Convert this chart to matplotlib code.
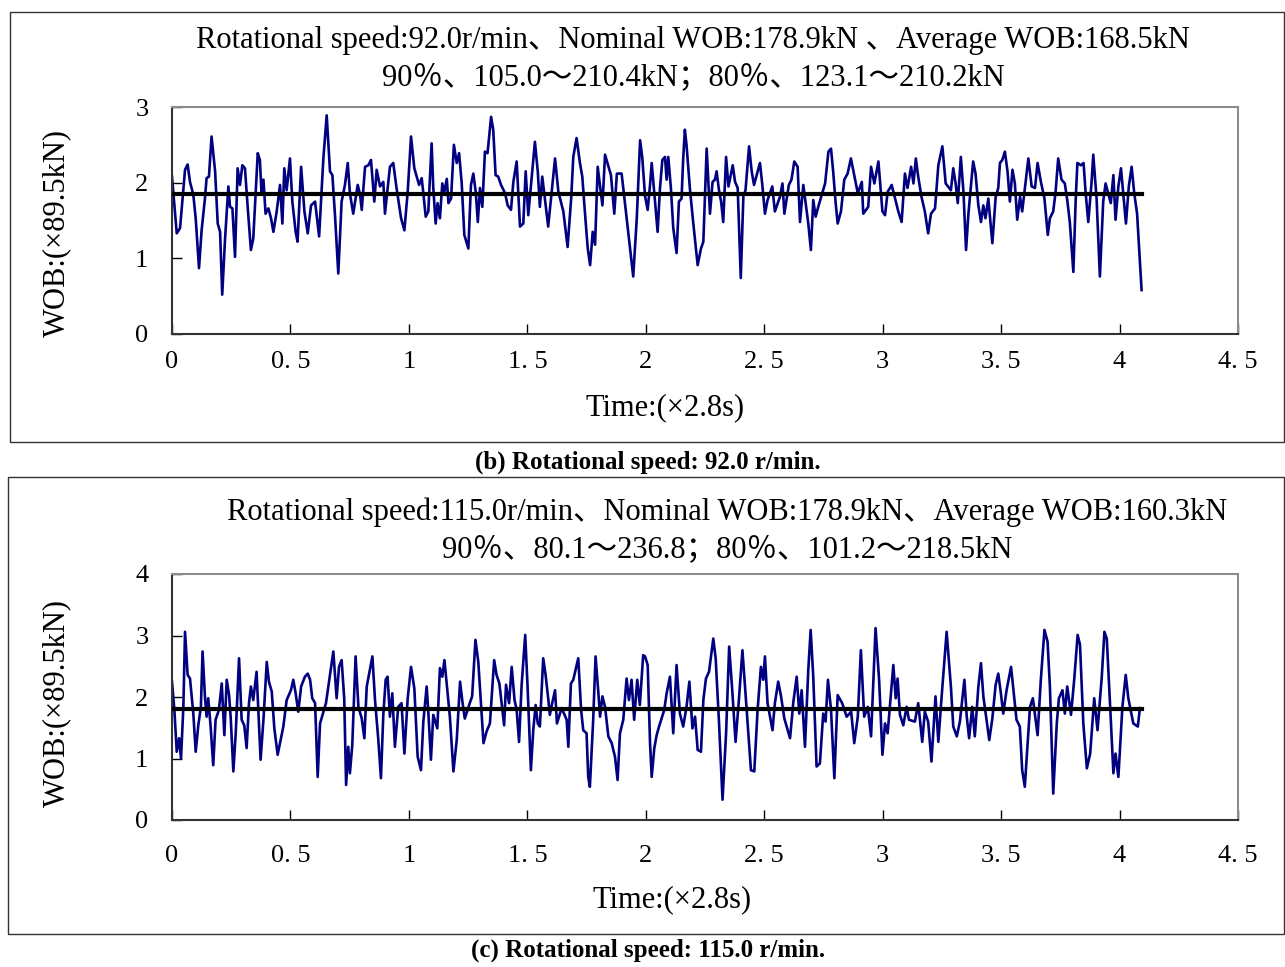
import matplotlib
matplotlib.use("Agg")
import matplotlib.pyplot as plt
from matplotlib.patches import Rectangle

plt.rcParams['font.family'] = ['Liberation Serif', 'Noto Sans CJK SC']

W, H = 1285, 967

# panel (b): 92.0 r/min, WOB in units of 89.5 kN, time in units of 2.8 s
t_b = [0.000, 0.020, 0.034, 0.055, 0.066, 0.076, 0.090, 0.100, 0.114, 0.125, 0.139, 0.146, 0.156, 0.167,
       0.182, 0.193, 0.203, 0.212, 0.224, 0.238, 0.245, 0.255, 0.266, 0.277, 0.287, 0.297, 0.308, 0.319,
       0.333, 0.343, 0.362, 0.371, 0.378, 0.386, 0.395, 0.407, 0.418, 0.428, 0.442, 0.456, 0.466, 0.474,
       0.484, 0.498, 0.508, 0.522, 0.530, 0.545, 0.559, 0.573, 0.587, 0.604, 0.621, 0.639, 0.653, 0.667,
       0.677, 0.688, 0.702, 0.716, 0.730, 0.742, 0.751, 0.765, 0.784, 0.794, 0.801, 0.815, 0.829, 0.840,
       0.854, 0.864, 0.878, 0.892, 0.899, 0.920, 0.934, 0.946, 0.967, 0.981, 0.995, 1.009,
       1.023, 1.043, 1.054, 1.061, 1.071, 1.082, 1.096, 1.103, 1.113, 1.121, 1.131, 1.141, 1.150, 1.160,
       1.167, 1.178, 1.190, 1.202, 1.212, 1.223, 1.234, 1.251, 1.262, 1.272, 1.282, 1.291, 1.300, 1.310,
       1.321, 1.332, 1.347, 1.356, 1.366, 1.377, 1.389, 1.406, 1.417, 1.431, 1.441, 1.455, 1.469, 1.483,
       1.493, 1.504, 1.532, 1.544, 1.553, 1.563, 1.588, 1.602, 1.617, 1.631, 1.652, 1.670, 1.685, 1.694,
       1.708, 1.722, 1.732, 1.744, 1.755, 1.765, 1.776, 1.786, 1.797, 1.817, 1.828, 1.853, 1.867, 1.878,
       1.898, 1.923, 1.947, 1.962, 1.976, 1.985,
       1.997, 2.008, 2.018, 2.025, 2.050, 2.060, 2.070, 2.081, 2.088, 2.095, 2.106, 2.116, 2.130, 2.140,
       2.151, 2.158, 2.165, 2.172, 2.186, 2.200, 2.219, 2.233, 2.243, 2.257, 2.271, 2.282, 2.292, 2.299,
       2.309, 2.318, 2.327, 2.339, 2.349, 2.367, 2.377, 2.388, 2.401, 2.412, 2.421, 2.436, 2.447, 2.457,
       2.482, 2.492, 2.503, 2.514, 2.534, 2.545, 2.567, 2.577, 2.585, 2.604, 2.615, 2.627, 2.641, 2.651,
       2.665, 2.686, 2.697, 2.707, 2.717, 2.728, 2.757, 2.771, 2.782, 2.791, 2.801, 2.810, 2.824, 2.838,
       2.852, 2.866, 2.881, 2.895, 2.912, 2.918, 2.939, 2.951, 2.965, 2.982, 2.999,
       3.010, 3.021, 3.031, 3.038, 3.066, 3.080, 3.094, 3.105, 3.120, 3.130, 3.140, 3.150, 3.164, 3.178,
       3.192, 3.204, 3.221, 3.235, 3.252, 3.266, 3.288, 3.298, 3.308, 3.317, 3.330, 3.341, 3.352, 3.362,
       3.373, 3.382, 3.392, 3.404, 3.415, 3.425, 3.434, 3.446, 3.463, 3.477, 3.488, 3.495, 3.505, 3.516,
       3.527, 3.537, 3.548, 3.558, 3.568, 3.580, 3.589, 3.615, 3.629, 3.643, 3.654, 3.668, 3.683, 3.697,
       3.706, 3.720, 3.730, 3.741, 3.755, 3.769, 3.780, 3.790, 3.805, 3.815, 3.822, 3.837, 3.848, 3.857,
       3.868, 3.882, 3.889, 3.903, 3.917, 3.931, 3.941, 3.963, 3.974, 3.983, 3.995, 4.006, 4.027, 4.039,
       4.051, 4.062, 4.074, 4.093]
wob_b = [2.08, 1.33, 1.40, 2.17, 2.24, 2.01, 1.84, 1.53, 0.87, 1.37, 1.79, 2.06, 2.08, 2.61,
         2.15, 1.46, 1.35, 0.52, 1.26, 1.95, 1.68, 1.66, 1.02, 2.19, 1.97, 2.23, 2.19, 1.70,
         1.11, 1.26, 2.39, 2.30, 1.86, 2.04, 1.59, 1.66, 1.53, 1.35, 1.62, 1.97, 1.46, 2.19,
         1.90, 2.32, 1.75, 1.35, 1.22, 2.21, 1.62, 1.33, 1.70, 1.75, 1.29, 2.32, 2.89, 2.15,
         2.10, 1.57, 0.80, 1.75, 1.97, 2.26, 1.86, 1.59, 1.97, 1.84, 1.64, 2.21, 2.23, 2.30,
         1.75, 2.17, 1.95, 2.01, 1.59, 2.21, 2.26, 1.97, 1.53, 1.37, 1.88, 2.61,
         2.19, 1.97, 2.06, 1.86, 1.55, 1.62, 2.52, 1.93, 1.46, 1.73, 1.53, 1.99, 1.88, 2.05,
         1.73, 1.79, 2.50, 2.26, 2.39, 1.99, 1.31, 1.13, 1.97, 2.12, 1.88, 1.48, 1.93, 1.68,
         2.41, 2.39, 2.87, 2.70, 2.10, 2.08, 1.97, 1.86, 1.70, 1.64, 2.01, 2.28, 1.42, 1.46,
         2.15, 1.57, 2.54, 2.15, 1.68, 2.08, 1.42, 1.86, 2.32, 1.88, 1.62, 1.15, 1.79, 2.34,
         2.59, 2.26, 2.08, 1.57, 1.13, 0.91, 1.35, 1.18, 2.21, 1.70, 2.37, 2.10, 1.59, 2.12,
         2.12, 1.42, 0.76, 1.53, 2.56, 2.34,
         1.82, 1.64, 1.97, 2.26, 1.35, 1.93, 2.30, 2.34, 2.04, 2.34, 1.93, 1.40, 1.07, 1.75,
         1.79, 2.32, 2.70, 2.50, 1.93, 1.48, 0.91, 1.13, 1.22, 2.45, 1.59, 2.01, 2.04, 2.15,
         1.90, 1.75, 1.48, 2.34, 1.95, 2.23, 2.01, 1.93, 0.74, 1.82, 1.90, 2.48, 2.15, 1.97,
         2.26, 1.97, 1.59, 1.77, 1.95, 1.62, 1.82, 1.99, 1.59, 1.97, 2.04, 2.28, 2.21, 1.48,
         1.97, 1.46, 1.11, 1.77, 1.55, 1.68, 1.99, 2.41, 2.45, 2.15, 1.75, 1.46, 1.62, 2.04,
         2.12, 2.32, 2.08, 1.86, 2.01, 1.59, 1.68, 2.21, 1.99, 2.28, 1.62,
         1.57, 1.88, 1.93, 1.97, 1.62, 1.48, 2.12, 1.93, 2.21, 1.99, 2.32, 2.08, 1.81, 1.62,
         1.33, 1.59, 1.66, 2.23, 2.48, 1.99, 1.90, 2.19, 1.99, 1.73, 2.34, 1.88, 1.11, 1.59,
         1.97, 2.28, 2.12, 1.70, 1.48, 1.70, 1.53, 1.79, 1.20, 1.81, 1.93, 2.26, 2.30, 2.41,
         2.15, 1.75, 2.17, 1.99, 1.51, 1.81, 1.62, 2.32, 1.95, 1.93, 2.26, 2.01, 1.79, 1.31,
         1.53, 1.62, 1.88, 2.32, 2.04, 1.99, 1.75, 1.48, 0.82, 1.79, 2.26, 2.23, 2.26, 1.86,
         1.48, 2.01, 2.37, 1.79, 0.76, 1.75, 1.99, 1.73, 2.10, 1.51, 1.95, 2.19, 1.46, 1.95,
         2.21, 1.86, 1.59, 0.58]

# panel (c): 115.0 r/min
t_c = [0.000, 0.010, 0.020, 0.030, 0.038, 0.048, 0.055, 0.066, 0.076, 0.090, 0.100, 0.111, 0.122, 0.129,
       0.139, 0.146, 0.153, 0.163, 0.174, 0.184, 0.198, 0.210, 0.221, 0.231, 0.241, 0.248, 0.259, 0.269,
       0.283, 0.294, 0.305, 0.315, 0.325, 0.333, 0.343, 0.357, 0.374, 0.386, 0.400, 0.409, 0.421, 0.432,
       0.446, 0.456, 0.470, 0.484, 0.502, 0.512, 0.522, 0.533, 0.545, 0.561, 0.573, 0.583, 0.592, 0.604,
       0.615, 0.625, 0.650, 0.664, 0.681, 0.695, 0.705, 0.716, 0.727, 0.735, 0.744, 0.751, 0.761, 0.775,
       0.787, 0.801, 0.812, 0.822, 0.846, 0.857, 0.871, 0.882, 0.892, 0.902, 0.910, 0.920, 0.930, 0.941,
       0.955, 0.969, 0.981, 0.995, 1.009,
       1.023, 1.037, 1.051, 1.061, 1.075, 1.082, 1.093, 1.103, 1.120, 1.131, 1.141, 1.150, 1.160, 1.173,
       1.188, 1.202, 1.216, 1.226, 1.236, 1.257, 1.267, 1.281, 1.293, 1.304, 1.315, 1.328, 1.342, 1.360,
       1.370, 1.382, 1.402, 1.410, 1.423, 1.434, 1.446, 1.455, 1.465, 1.476, 1.491, 1.501, 1.515, 1.525,
       1.535, 1.544, 1.553, 1.567, 1.577, 1.588, 1.595, 1.605, 1.617, 1.625, 1.645, 1.666, 1.673, 1.684,
       1.694, 1.715, 1.727, 1.736, 1.750, 1.757, 1.764, 1.778, 1.788, 1.800, 1.807, 1.817, 1.828, 1.842,
       1.856, 1.870, 1.881, 1.891, 1.905, 1.919, 1.929, 1.940, 1.951, 1.964, 1.975, 1.989,
       1.997, 2.008, 2.018, 2.025, 2.036, 2.046, 2.056, 2.078, 2.088, 2.102, 2.116, 2.130, 2.144, 2.158,
       2.172, 2.184, 2.197, 2.208, 2.219, 2.233, 2.243, 2.254, 2.267, 2.285, 2.295, 2.309, 2.324, 2.339,
       2.352, 2.365, 2.379, 2.393, 2.408, 2.418, 2.444, 2.458, 2.472, 2.486, 2.496, 2.503, 2.514, 2.535,
       2.545, 2.559, 2.571, 2.585, 2.609, 2.623, 2.637, 2.648, 2.658, 2.672, 2.686, 2.696, 2.707, 2.721,
       2.735, 2.749, 2.759, 2.769, 2.782, 2.796, 2.810, 2.829, 2.848, 2.867, 2.880, 2.895, 2.908, 2.922,
       2.937, 2.951, 2.970, 2.985, 2.999,
       3.010, 3.021, 3.045, 3.055, 3.063, 3.073, 3.087, 3.101, 3.111, 3.136, 3.150, 3.167, 3.178, 3.192,
       3.206, 3.223, 3.235, 3.249, 3.270, 3.288, 3.298, 3.313, 3.326, 3.345, 3.355, 3.365, 3.378, 3.389,
       3.404, 3.415, 3.425, 3.450, 3.463, 3.477, 3.488, 3.499, 3.509, 3.523, 3.542, 3.565, 3.579, 3.589,
       3.600, 3.612, 3.622, 3.634, 3.654, 3.668, 3.683, 3.696, 3.706, 3.720, 3.735, 3.744, 3.759, 3.769,
       3.779, 3.795, 3.809, 3.823, 3.833, 3.847, 3.862, 3.876, 3.893, 3.907, 3.925, 3.936, 3.946, 3.959,
       3.974, 3.983, 3.995, 4.012, 4.026, 4.037, 4.058, 4.077, 4.086]
wob_c = [2.25, 1.79, 1.11, 1.33, 1.00, 1.84, 3.06, 2.36, 2.30, 1.73, 1.11, 1.54, 1.84, 2.74,
         2.01, 1.68, 1.98, 1.52, 0.89, 1.63, 1.79, 2.22, 1.38, 2.28, 2.03, 1.65, 0.79, 1.41,
         2.63, 1.63, 1.54, 1.17, 1.90, 2.17, 1.95, 2.41, 0.98, 1.63, 2.57, 2.25, 2.09, 1.49,
         1.06, 1.25, 1.52, 1.95, 2.11, 2.28, 2.06, 1.76, 2.17, 2.33, 2.38, 2.28, 1.98, 1.90,
         0.70, 1.57, 1.90, 2.28, 2.74, 1.98, 2.49, 2.60, 1.98, 0.57, 1.19, 0.76, 1.22, 2.66,
         1.84, 1.65, 1.33, 2.17, 2.66, 1.95, 1.30, 0.68, 1.71, 2.28, 2.33, 1.68, 2.06, 1.19,
         1.84, 1.90, 1.08, 1.98, 2.49,
         2.14, 1.03, 0.81, 1.60, 2.17, 1.76, 0.98, 1.71, 1.49, 2.47, 2.33, 2.60, 2.20, 1.68,
         0.79, 1.30, 2.25, 1.92, 1.65, 1.90, 2.01, 2.93, 2.57, 1.90, 1.25, 1.44, 1.57, 2.60,
         2.36, 2.22, 1.54, 2.20, 1.90, 2.49, 1.95, 1.79, 1.27, 2.20, 3.01, 2.17, 0.81, 1.46,
         1.87, 1.57, 1.52, 2.63, 2.36, 1.98, 1.71, 1.90, 2.11, 1.57, 1.82, 1.63, 1.19, 2.22,
         2.28, 2.63, 1.79, 1.46, 1.41, 0.70, 0.54, 1.63, 2.66, 2.06, 1.68, 2.01, 1.84, 1.36,
         1.25, 1.03, 0.65, 1.41, 1.63, 2.30, 1.95, 2.28, 1.63, 2.28, 1.87, 2.68,
         2.66, 2.52, 1.25, 0.70, 1.17, 1.38, 1.52, 1.79, 2.06, 2.33, 1.41, 2.52, 1.73, 1.52,
         1.84, 2.25, 1.49, 1.68, 1.14, 1.11, 1.95, 2.30, 2.41, 2.95, 2.63, 1.60, 0.33, 1.41,
         2.82, 2.11, 1.27, 1.95, 2.76, 2.22, 0.81, 0.79, 1.79, 2.49, 2.28, 2.66, 1.90, 1.46,
         1.90, 2.25, 2.01, 1.65, 1.33, 1.92, 2.33, 1.73, 2.11, 1.19, 2.44, 3.09, 2.33, 0.87,
         0.92, 1.73, 1.60, 2.28, 1.79, 0.68, 2.03, 1.90, 1.68, 1.76, 1.25, 1.68, 2.76, 1.68,
         1.84, 1.36, 3.12, 2.28, 1.06,
         1.57, 1.41, 2.52, 1.98, 2.30, 1.71, 1.54, 1.84, 1.63, 1.60, 1.90, 1.27, 1.76, 1.60,
         0.95, 2.01, 1.27, 2.01, 3.06, 2.17, 1.52, 1.36, 1.60, 2.28, 1.68, 1.33, 1.84, 1.36,
         2.17, 2.55, 2.01, 1.30, 1.65, 2.20, 2.38, 2.06, 1.73, 2.11, 2.49, 1.63, 1.52, 0.81,
         0.54, 1.25, 1.84, 1.98, 1.38, 2.30, 3.09, 2.90, 2.17, 0.43, 1.57, 1.98, 2.11, 1.73,
         2.17, 1.71, 2.30, 3.01, 2.85, 1.57, 0.84, 1.08, 1.98, 1.46, 2.33, 3.06, 2.95, 1.95,
         0.76, 1.08, 0.70, 1.84, 2.36, 1.98, 1.57, 1.52, 1.82]

mean_b = 1.85
mean_c = 1.80
t_end = 4.095

title_b = ["Rotational speed:92.0r/min、Nominal WOB:178.9kN 、Average WOB:168.5kN",
           "90％、105.0～210.4kN；80％、123.1～210.2kN"]
title_c = ["Rotational speed:115.0r/min、Nominal WOB:178.9kN、Average WOB:160.3kN",
           "90％、80.1～236.8；80％、101.2～218.5kN"]
caption_b = "(b) Rotational speed: 92.0 r/min."
caption_c = "(c) Rotational speed: 115.0 r/min."
xticks = [0, 0.5, 1, 1.5, 2, 2.5, 3, 3.5, 4, 4.5]
xticklabels = ["0", "0. 5", "1", "1. 5", "2", "2. 5", "3", "3. 5", "4", "4. 5"]


def fx(x):
    return x / W


def fy(y):
    return 1 - y / H


fig = plt.figure(figsize=(W / 100, H / 100), dpi=100)


def panel(box, ax_rect, t, wob, mean, ymax, titles, title_y, title_x, xlab_y, xlab_x, ylab_y,
          caption, cap_y, xpad):
    x0, y0, x1, y1 = box
    fig.patches.append(Rectangle((fx(x0), fy(y1)), fx(x1 - x0), (y1 - y0) / H,
                                 transform=fig.transFigure, fill=False, ec='#333333', lw=1.0))
    l, t_, r, b = ax_rect
    ax = fig.add_axes([fx(l), fy(b), fx(r - l), (b - t_) / H])
    ax.plot(t, wob, color='#000080', lw=1.9, zorder=2)
    ax.plot([0, t_end], [mean, mean], color='black', lw=3.0, zorder=3)
    ax.set_xlim(0, 4.5)
    ax.set_ylim(0, ymax)
    ax.set_xticks(xticks)
    ax.set_xticklabels(xticklabels)
    ax.set_yticks(range(ymax + 1))
    ax.tick_params(direction='in', length=7, width=1, labelsize=19)
    ax.tick_params(axis='x', pad=xpad)
    ax.tick_params(axis='y', pad=17)
    for s in ['left', 'bottom']:
        ax.spines[s].set_color('#333333')
        ax.spines[s].set_linewidth(1.5)
    for s in ['top', 'right']:
        ax.spines[s].set_color('#8c8c8c')
        ax.spines[s].set_linewidth(1.5)
    for i, line in enumerate(titles):
        fig.text(fx(title_x), fy(title_y[i]), line, ha='center', va='center', fontsize=22)
    fig.text(fx(xlab_x), fy(xlab_y), "Time:(×2.8s)", ha='center', va='center', fontsize=22)
    fig.text(fx(57), fy(ylab_y), "WOB:(×89.5kN)", ha='center', va='center', fontsize=22,
             rotation=90)
    fig.text(fx(648), fy(cap_y), caption, ha='center', va='center', fontsize=18,
             fontweight='bold')
    return ax


panel((10, 12, 1284, 442), (172, 107, 1238, 334), t_b, wob_b, mean_b, 3,
      title_b, [40, 78], 693, 408, 665, 233, caption_b, 462, 12)
panel((8, 477, 1284, 934), (172, 574, 1238, 820), t_c, wob_c, mean_c, 4,
      title_c, [512, 550], 727, 900, 672, 703, caption_c, 950, 18)

fig.savefig("out.png", dpi=100)
